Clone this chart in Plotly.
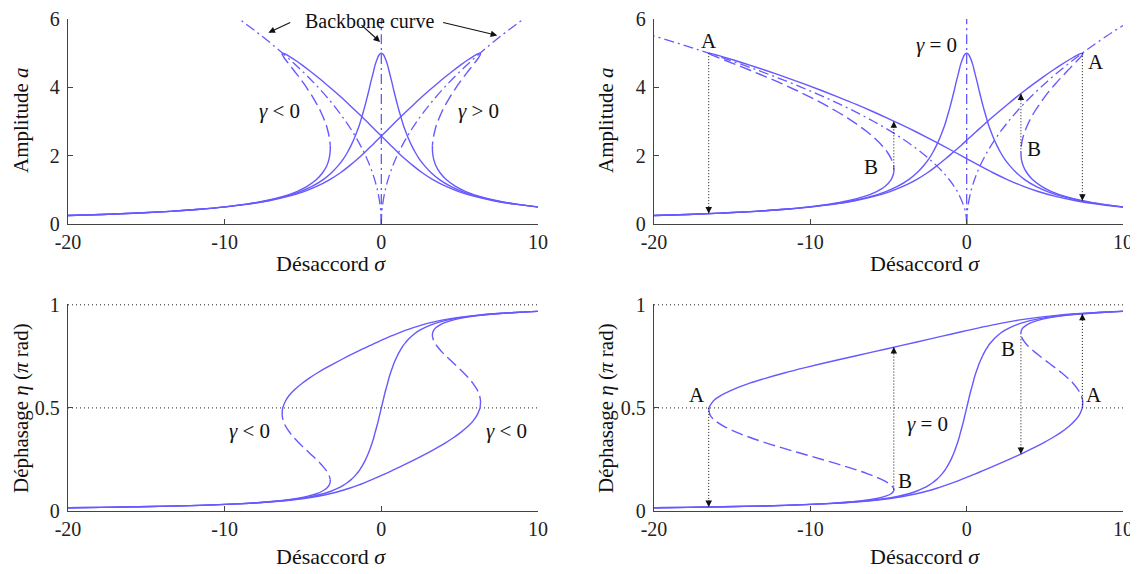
import plotly.graph_objects as go

# ---------------- data ----------------
# amplitude values along every response curve (shared parameter of the branches)
amp = [5.0, 4.97, 4.9, 4.8, 4.65, 4.5, 4.3, 4.1, 3.9, 3.7, 3.5, 3.3, 3.1, 2.9, 2.7, 2.5,
       2.3, 2.1, 1.9, 1.7, 1.5, 1.3, 1.1, 0.95, 0.8, 0.68, 0.58, 0.5, 0.43, 0.37, 0.32, 0.28, 0.245]
# phase (pi rad) on the upper / lower branch at each amplitude value
phase_hi = [0.5, 0.5349, 0.5638, 0.5903, 0.6198, 0.6436, 0.6705, 0.6940, 0.7152, 0.7348, 0.7532,
            0.7706, 0.7871, 0.8031, 0.8184, 0.8333, 0.8479, 0.8620, 0.8759, 0.8896, 0.9030, 0.9163,
            0.9294, 0.9392, 0.9489, 0.9566, 0.9630, 0.9681, 0.9726, 0.9764, 0.9796, 0.9822, 0.9844]
phase_lo = [0.5, 0.4651, 0.4362, 0.4097, 0.3802, 0.3564, 0.3295, 0.3060, 0.2848, 0.2652, 0.2468,
            0.2294, 0.2129, 0.1969, 0.1816, 0.1667, 0.1521, 0.1380, 0.1241, 0.1104, 0.0970, 0.0837,
            0.0706, 0.0608, 0.0511, 0.0434, 0.0370, 0.0319, 0.0274, 0.0236, 0.0204, 0.0178, 0.0156]

# detuning sigma of each branch (gamma = 0)
sig0_hi = [0.0, 0.11, 0.20, 0.29, 0.40, 0.48, 0.59, 0.70, 0.80, 0.91, 1.02, 1.14, 1.27, 1.40, 1.56,
           1.73, 1.93, 2.16, 2.43, 2.77, 3.18, 3.71, 4.43, 5.17, 6.17, 7.28, 8.56, 9.95, 11.58]
sig0_lo = [0.0, -0.11, -0.20, -0.29, -0.40, -0.48, -0.59, -0.70, -0.80, -0.91, -1.02, -1.14, -1.27,
           -1.40, -1.56, -1.73, -1.93, -2.16, -2.43, -2.77, -3.18, -3.71, -4.43, -5.17, -6.17, -7.28,
           -8.56, -9.95, -11.58, -13.48, -15.59, -17.83, -20.38]
# left-hand figures: gamma < 0
sigS_hi = [-6.30, -6.11, -5.85, -5.51, -5.05, -4.62, -4.07, -3.54, -3.03, -2.54, -2.07, -1.61, -1.16,
           -0.71, -0.28, 0.16, 0.60, 1.05, 1.52, 2.04, 2.61, 3.29, 4.13, 4.94, 6.01, 7.17, 8.48, 9.89, 11.54]
sigS_lo = [-6.30, -6.33, -6.25, -6.10, -5.84, -5.59, -5.25, -4.93, -4.64, -4.36, -4.11, -3.88, -3.69,
           -3.52, -3.40, -3.31, -3.26, -3.27, -3.34, -3.49, -3.75, -4.14, -4.74, -5.39, -6.33, -7.40,
           -8.65, -10.01, -11.63, -13.51, -15.62, -17.85, -20.40]
# left-hand figures: gamma > 0
sigH_hi = [6.30, 6.33, 6.25, 6.10, 5.84, 5.59, 5.25, 4.93, 4.64, 4.36, 4.11, 3.88, 3.69, 3.52, 3.40,
           3.31, 3.26, 3.27, 3.34, 3.49, 3.75, 4.14, 4.74, 5.39, 6.33, 7.40, 8.65, 10.01]
sigH_lo = [6.30, 6.11, 5.85, 5.51, 5.05, 4.62, 4.07, 3.54, 3.03, 2.54, 2.07, 1.61, 1.16, 0.71, 0.28,
           -0.16, -0.60, -1.05, -1.52, -2.04, -2.61, -3.29, -4.13, -4.94, -6.01, -7.17, -8.48, -9.89,
           -11.54, -13.44, -15.57, -17.81, -20.37]
# right-hand figures: gamma < 0
sigL_hi = [-16.50, -16.19, -15.64, -14.91, -13.88, -12.88, -11.61, -10.40, -9.24, -8.13, -7.06, -6.05,
           -5.08, -4.15, -3.25, -2.39, -1.56, -0.75, 0.05, 0.86, 1.69, 2.60, 3.64, 4.57, 5.75, 6.98,
           8.34, 9.78, 11.46]
sigL_lo = [-16.50, -16.41, -16.05, -15.50, -14.67, -13.85, -12.80, -11.79, -10.84, -9.94, -9.11, -8.33,
           -7.61, -6.96, -6.37, -5.86, -5.42, -5.07, -4.82, -4.67, -4.66, -4.83, -5.23, -5.76, -6.59,
           -7.59, -8.78, -10.11, -11.71, -13.57, -15.66, -17.88, -20.42]
# right-hand figures: gamma > 0
sigR_hi = [7.40, 7.42, 7.31, 7.11, 6.80, 6.48, 6.07, 5.67, 5.30, 4.96, 4.65, 4.36, 4.11, 3.89, 3.72,
           3.58, 3.50, 3.47, 3.50, 3.62, 3.85, 4.21, 4.79, 5.43, 6.36, 7.42, 8.66, 10.02]
sigR_lo = [7.40, 7.20, 6.90, 6.53, 6.01, 5.51, 4.88, 4.28, 3.70, 3.14, 2.61, 2.09, 1.58, 1.08, 0.60,
           0.12, -0.36, -0.86, -1.37, -1.91, -2.51, -3.21, -4.08, -4.90, -5.98, -7.15, -8.46, -9.88,
           -11.53, -13.44, -15.56, -17.81, -20.37]

# backbone curves
bb_amp = [0, 0.25, 0.5, 1, 1.5, 2, 2.5, 3, 3.5, 4, 4.5, 5, 5.5, 6]
bb0 = [0, 0, 0, 0, 0, 0, 0, 0, 0, 0, 0, 0, 0, 0]
bbS = [0, -0.016, -0.063, -0.252, -0.567, -1.008, -1.575, -2.268, -3.087, -4.032, -5.103, -6.30, -7.623, -9.072]
bbH = [0, 0.016, 0.063, 0.252, 0.567, 1.008, 1.575, 2.268, 3.087, 4.032, 5.103, 6.30, 7.623, 9.072]
bbL = [0, -0.041, -0.165, -0.66, -1.485, -2.64, -4.125, -5.94, -8.085, -10.56, -13.365, -16.5, -19.965, -23.76]
bbR = [0, 0.0185, 0.074, 0.296, 0.666, 1.184, 1.85, 2.664, 3.626, 4.736, 5.994, 7.40, 8.954, 10.656]

# jumps (dotted arrows) in the right-hand figures
jump_sigma = [-16.5, -4.66, 3.47, 7.40]
jump_amp_from = [5.0, 1.6, 2.1, 5.0]
jump_amp_to = [0.31, 3.01, 3.82, 0.68]
jump_phase_from = [0.5, 0.104, 0.862, 0.5]
jump_phase_to = [0.0195, 0.795, 0.277, 0.9566]

# axes
x_range = [-20, 10]
x_ticks = [-20, -10, 0, 10]
x_ticktext = ["-20", "-10", "0", "10"]
amp_ticks = [0, 2, 4, 6]
phase_ticks = [0, 0.5, 1]
phase_ticktext = ["0", "0.5", "1"]
guide_levels = [0.5, 1.0]

# labels
tl_text = ["<i>γ</i> < 0", "<i>γ</i> > 0"]
tl_x = [-6.5, 6.2]
tl_y = [3.3, 3.3]
tr_text = ["A", "A", "B", "B", "<i>γ</i> = 0"]
tr_x = [-16.5, 8.27, -6.1, 4.33, -1.9]
tr_y = [5.36, 4.75, 1.68, 2.19, 5.24]
bl_text = ["<i>γ</i> < 0", "<i>γ</i> < 0"]
bl_x = [-8.4, 8.0]
bl_y = [0.39, 0.39]
br_text = ["A", "A", "B", "B", "<i>γ</i> = 0"]
br_x = [-17.27, 8.16, -3.95, 2.66, -2.5]
br_y = [0.565, 0.564, 0.146, 0.786, 0.42]
bb_tip_x = [-7.21, -0.08, 7.40]
bb_tip_y = [5.60, 5.33, 5.52]
bb_tail_x = [-5.72, -1.36, 3.85]
bb_tail_y = [5.92, 5.86, 5.91]

# ---------------- styling ----------------
# the page body has an 8 px margin: the figure is drawn 8 px in from the window edge
OFF = 8
FW, FH = 1138 - OFF, 574 - OFF
FONT = "Liberation Serif"
BLUE = "#6659ff"
SOLID = "solid"
DASH = "12px,5px"
DASHDOT = "10px,4px,2px,4px"
AXC = "#444444"


def px(p):
    return (p - OFF) / FW


def py(p):
    return 1 - (p - OFF) / FH


fig = go.Figure()


def line(xs, ys, ax, dash=SOLID, color=BLUE, width=1.4, shape="spline"):
    fig.add_trace(go.Scatter(
        x=xs, y=ys, xaxis="x" + ax, yaxis="y" + ax, mode="lines",
        line=dict(color=color, width=width, dash=dash, shape=shape, smoothing=1.0),
        hoverinfo="skip", showlegend=False))


n0 = len(sig0_hi)

# ---------- top-left: amplitude, gamma < 0 / = 0 / > 0 ----------
ax = ""
line(sig0_lo[::-1] + sig0_hi[1:], amp[::-1] + amp[1:n0], ax)
line(sigS_hi, amp[:len(sigS_hi)], ax)
line(sigS_lo[:17], amp[:17], ax, DASH)
line(sigS_lo[16:], amp[16:], ax)
line(sigH_hi[:17], amp[:17], ax, DASH)
line(sigH_hi[16:], amp[16:len(sigH_hi)], ax)
line(sigH_lo, amp, ax)
for bb in (bbS, bb0, bbH):
    line(bb, bb_amp, ax, DASHDOT, width=1.3)

# ---------- top-right ----------
ax = "2"
line(sig0_lo[::-1] + sig0_hi[1:], amp[::-1] + amp[1:n0], ax)
line(sigL_hi, amp[:len(sigL_hi)], ax)
line(sigL_lo[:21], amp[:21], ax, DASH)
line(sigL_lo[20:], amp[20:], ax)
line(sigR_hi[:18], amp[:18], ax, DASH)
line(sigR_hi[17:], amp[17:len(sigR_hi)], ax)
line(sigR_lo, amp, ax)
for bb in (bbL, bb0, bbR):
    line(bb, bb_amp, ax, DASHDOT, width=1.3)
for s, a0, a1 in zip(jump_sigma, jump_amp_from, jump_amp_to):
    line([s, s], [a0, a1], ax, "1px,2px", color="#111111", width=1, shape="linear")

# ---------- bottom-left: phase ----------
ax = "3"
for lv in guide_levels:
    line(x_range, [lv, lv], ax, "1px,3px", color="#222222", width=1, shape="linear")
line(sig0_lo[::-1] + sig0_hi[1:], phase_lo[::-1] + phase_hi[1:n0], ax)
line(sigS_hi, phase_hi[:len(sigS_hi)], ax)
line(sigS_lo[:17], phase_lo[:17], ax, DASH)
line(sigS_lo[16:], phase_lo[16:], ax)
line(sigH_hi[:17], phase_hi[:17], ax, DASH)
line(sigH_hi[16:], phase_hi[16:len(sigH_hi)], ax)
line(sigH_lo, phase_lo, ax)

# ---------- bottom-right ----------
ax = "4"
for lv in guide_levels:
    line(x_range, [lv, lv], ax, "1px,3px", color="#222222", width=1, shape="linear")
line(sig0_lo[::-1] + sig0_hi[1:], phase_lo[::-1] + phase_hi[1:n0], ax)
line(sigL_hi, phase_hi[:len(sigL_hi)], ax)
line(sigL_lo[:21], phase_lo[:21], ax, DASH)
line(sigL_lo[20:], phase_lo[20:], ax)
line(sigR_hi[:18], phase_hi[:18], ax, DASH)
line(sigR_hi[17:], phase_hi[17:len(sigR_hi)], ax)
line(sigR_lo, phase_lo, ax)
for s, p0, p1 in zip(jump_sigma, jump_phase_from, jump_phase_to):
    line([s, s], [p0, p1], ax, "1px,2px", color="#111111", width=1, shape="linear")

# ---------------- axes ----------------
xl = [px(68), px(538)]
xr = [px(654), px(1123)]
yt = [py(224), py(19)]
yb = [py(511), py(304)]
tickfont = dict(family=FONT, size=20, color="#222222")


def xcfg(domain, anchor):
    return dict(domain=domain, anchor=anchor, range=x_range, tickvals=x_ticks, ticktext=x_ticktext,
                ticks="inside", ticklen=5, tickwidth=1, tickcolor=AXC, showline=True, linecolor=AXC,
                linewidth=1.3, showgrid=False, zeroline=False, tickfont=tickfont, fixedrange=True,
                automargin=False)


def ycfg(domain, anchor, rng, vals, text=None):
    d = dict(domain=domain, anchor=anchor, range=rng, tickvals=vals, ticks="inside", ticklen=5,
             tickwidth=1, tickcolor=AXC, showline=True, linecolor=AXC, linewidth=1.3, showgrid=False,
             zeroline=False, tickfont=tickfont, ticklabelstandoff=3, fixedrange=True, automargin=False)
    if text is not None:
        d["ticktext"] = text
    return d


fig.update_layout(
    template="none",
    width=FW, height=FH, autosize=False,
    margin=dict(l=0, r=0, t=0, b=0, pad=0),
    paper_bgcolor="white", plot_bgcolor="white",
    font=dict(family=FONT, size=20, color="#111111"),
    xaxis=xcfg(xl, "y"), yaxis=ycfg(yt, "x", [0, 6], amp_ticks),
    xaxis2=xcfg(xr, "y2"), yaxis2=ycfg(yt, "x2", [0, 6], amp_ticks),
    xaxis3=xcfg(xl, "y3"), yaxis3=ycfg(yb, "x3", [0, 1.004], phase_ticks, phase_ticktext),
    xaxis4=xcfg(xr, "y4"), yaxis4=ycfg(yb, "x4", [0, 1.004], phase_ticks, phase_ticktext),
)

ann = []
lab_font = dict(family=FONT, size=21, color="#111111")
title_font = dict(family=FONT, size=22, color="#111111")
ytitle_font = dict(family=FONT, size=21, color="#111111")


def add_labels(texts, xs, ys, ax):
    for t, x, y in zip(texts, xs, ys):
        ann.append(dict(text=t, x=x, y=y, xref="x" + ax, yref="y" + ax, showarrow=False,
                        xanchor="center", yanchor="middle", font=lab_font))


add_labels(tl_text, tl_x, tl_y, "")
add_labels(tr_text, tr_x, tr_y, "2")
add_labels(bl_text, bl_x, bl_y, "3")
add_labels(br_text, br_x, br_y, "4")

# arrow heads of the jumps (tail offset in pixels: positive = below the tip)
for s, a0, a1 in zip(jump_sigma, jump_amp_from, jump_amp_to):
    ann.append(dict(x=s, y=a1, xref="x2", yref="y2", text="", showarrow=True, arrowhead=2,
                    arrowsize=1.3, arrowwidth=1, arrowcolor="#111111", ax=0,
                    ay=(8 if a1 > a0 else -8), standoff=0))
for s, p0, p1 in zip(jump_sigma, jump_phase_from, jump_phase_to):
    ann.append(dict(x=s, y=p1, xref="x4", yref="y4", text="", showarrow=True, arrowhead=2,
                    arrowsize=1.3, arrowwidth=1, arrowcolor="#111111", ax=0,
                    ay=(8 if p1 > p0 else -8), standoff=0))

# "Backbone curve" label and its arrows
ann.append(dict(text="Backbone curve", x=px(369.5), y=py(21), xref="paper", yref="paper",
                xanchor="center", yanchor="middle", showarrow=False,
                font=dict(family=FONT, size=20, color="#111111")))
for tx, ty, hx, hy in zip(bb_tip_x, bb_tip_y, bb_tail_x, bb_tail_y):
    ann.append(dict(x=tx, y=ty, ax=hx, ay=hy, xref="x", yref="y", axref="x", ayref="y", text="",
                    showarrow=True, arrowhead=2, arrowsize=1.2, arrowwidth=1.1,
                    arrowcolor="#111111", standoff=0))

# axis titles
for x_px, y_px in ((331, 263), (925, 263), (331, 556), (925, 556)):
    ann.append(dict(text="Désaccord <i>σ</i>", x=px(x_px), y=py(y_px), xref="paper", yref="paper",
                    xanchor="center", yanchor="middle", showarrow=False, font=title_font))
for x_px in (21, 606):
    ann.append(dict(text="Amplitude <i>a</i>", x=px(x_px), y=py(120), xref="paper", yref="paper",
                    xanchor="center", yanchor="middle", showarrow=False, textangle=-90,
                    font=ytitle_font))
    ann.append(dict(text="Déphasage <i>η</i> (<i>π</i> rad)", x=px(x_px), y=py(408), xref="paper",
                    yref="paper", xanchor="center", yanchor="middle", showarrow=False,
                    textangle=-90, font=ytitle_font))

fig.update_layout(annotations=ann)
fig.write_html("out.html")
